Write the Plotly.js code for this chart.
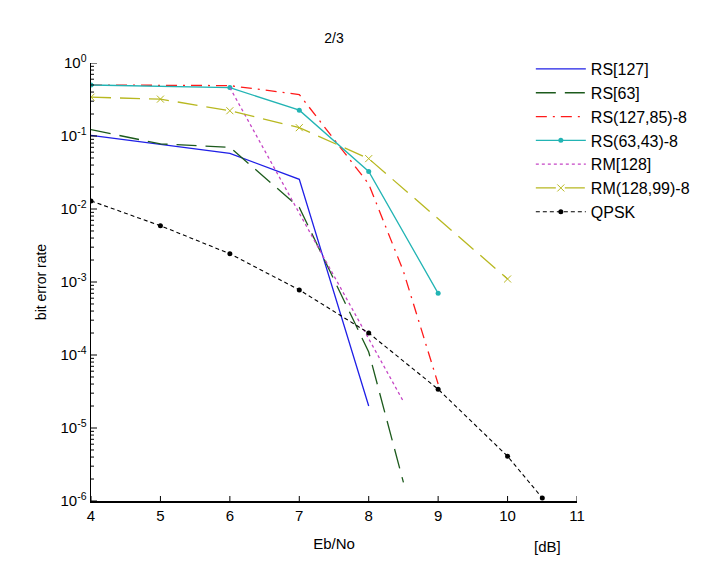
<!DOCTYPE html>
<html>
<head>
<meta charset="utf-8">
<script src="https://cdn.plot.ly/plotly-3.0.1.min.js"></script>
<style>html,body{margin:0;padding:0;background:#fff;}#chart{width:723px;height:569px;}</style>
</head>
<body>
<div id="chart"></div>
<script>
// ---- data ----
const seriesNames = ["RS[127]", "RS[63]", "RS(127,85)-8", "RS(63,43)-8", "RM[128]", "RM(128,99)-8", "QPSK"];

const rs127X = [4, 5, 6, 7, 8];
const rs127Y = [0.102, 0.077, 0.058, 0.0255, 2.0e-5];

const rs63X = [4, 5, 6, 7, 8, 8.5];
const rs63Y = [0.122, 0.078, 0.070, 0.0105, 1.1e-4, 1.8e-6];

const rs12785X = [4, 5, 6, 7, 8, 8.5, 9];
const rs12785Y = [0.50, 0.50, 0.49, 0.37, 0.022, 1.4e-3, 4.0e-5];

const rs6343X = [4, 6, 7, 8, 9];
const rs6343Y = [0.50, 0.46, 0.226, 0.0327, 7.0e-4];

const rm128X = [6, 7, 8, 8.5];
const rm128Y = [0.46, 0.0087, 1.6e-4, 2.3e-5];

const rm12899X = [4, 5, 6, 7, 8, 10];
const rm12899Y = [0.34, 0.32, 0.222, 0.13, 0.049, 1.1e-3];

const qpskX = [4, 5, 6, 7, 8, 9, 10, 10.5];
const qpskY = [0.0129, 0.0059, 0.00244, 7.8e-4, 2.0e-4, 3.4e-5, 4.1e-6, 1.1e-6];

const xTickVals = [4, 5, 6, 7, 8, 9, 10, 11];
const yTickVals = [1e-6, 1e-5, 1e-4, 1e-3, 1e-2, 1e-1, 1];
const yTickText = ["10<sup>-6</sup>", "10<sup>-5</sup>", "10<sup>-4</sup>", "10<sup>-3</sup>", "10<sup>-2</sup>", "10<sup>-1</sup>", "10<sup>0</sup>"];

const titleText = "2/3";
const xTitle = "Eb/No";
const yTitle = "bit error rate";
const unitText = "[dB]";

// minor tick positions (2..9 within each decade of the axis)
const minorDigits = [2, 3, 4, 5, 6, 7, 8, 9];
const yMinorVals = [];
yTickVals.slice(0, -1).forEach(d => minorDigits.forEach(m => yMinorVals.push(d * m)));

// ---- traces ----
const traces = [
  {x: rs127X, y: rs127Y, name: seriesNames[0], mode: "lines",
   line: {color: "#1f1fe6", width: 1.3}},
  {x: rs63X, y: rs63Y, name: seriesNames[1], mode: "lines",
   line: {color: "#1c5a1c", width: 1.3, dash: "20px,9px"}},
  {x: rs12785X, y: rs12785Y, name: seriesNames[2], mode: "lines",
   line: {color: "#ff1a1a", width: 1.3, dash: "11px,6px,2px,6px"}},
  {x: rs6343X, y: rs6343Y, name: seriesNames[3], mode: "lines+markers",
   line: {color: "#22b4b4", width: 1.3},
   marker: {symbol: "circle", size: 5, color: "#22b4b4"}},
  {x: rm128X, y: rm128Y, name: seriesNames[4], mode: "lines",
   line: {color: "#c545c5", width: 1.3, dash: "3px,3px"}},
  {x: rm12899X, y: rm12899Y, name: seriesNames[5], mode: "lines+markers",
   line: {color: "#b8b820", width: 1.3, dash: "20px,9px"},
   marker: {symbol: "x-thin", size: 7, color: "#b8b820", line: {color: "#b8b820", width: 1}}},
  {x: qpskX, y: qpskY, name: seriesNames[6], mode: "lines+markers",
   line: {color: "#000000", width: 1.1, dash: "4px,3px"},
   marker: {symbol: "circle", size: 5, color: "#000000"}}
];

// inward tick marks drawn as axis-referenced shapes
const plotW = 723 - 91 - 146, plotH = 569 - 63 - 68;
const tickShapes = [];
xTickVals.forEach(v => tickShapes.push({type: "line", xref: "x", yref: "paper", x0: v, x1: v, y0: 0, y1: 5 / plotH,
  line: {color: "#000", width: 1}, layer: "above"}));
yTickVals.forEach(v => tickShapes.push({type: "line", xref: "paper", yref: "y", x0: 0, x1: 6 / plotW, y0: v, y1: v,
  line: {color: "#000", width: 1}, layer: "above"}));
yMinorVals.forEach(v => tickShapes.push({type: "line", xref: "paper", yref: "y", x0: 0, x1: 3 / plotW, y0: v, y1: v,
  line: {color: "#000", width: 1}, layer: "above"}));

const layout = {
  width: 723, height: 569,
  margin: {l: 91, r: 146, t: 63, b: 68},
  paper_bgcolor: "#ffffff", plot_bgcolor: "#ffffff",
  font: {family: "Liberation Sans, Arial, sans-serif", size: 14, color: "#000"},
  showlegend: true,
  title: {text: titleText, x: 334 / 723, xanchor: "center", y: 1 - 38 / 569, yanchor: "middle",
          font: {size: 14, color: "#000"}},
  xaxis: {
    range: [4, 11], tickmode: "array", tickvals: xTickVals,
    ticks: "", showline: true, linecolor: "#000", linewidth: 1.5, mirror: false,
    showgrid: false, zeroline: false,
    tickfont: {size: 15},
    title: {text: xTitle, font: {size: 15}, standoff: 16}
  },
  yaxis: {
    type: "log", range: [-6, 0], tickmode: "array", tickvals: yTickVals, ticktext: yTickText,
    ticks: "", showline: true, linecolor: "#000", linewidth: 1.5, mirror: false,
    showgrid: false, zeroline: false,
    tickfont: {size: 15},
    title: {text: yTitle, font: {size: 14}, standoff: 10}
  },
  shapes: tickShapes,
  legend: {
    x: 0.905, y: 1.025, xanchor: "left", yanchor: "top",
    bgcolor: "rgba(0,0,0,0)", borderwidth: 0,
    font: {size: 16, color: "#000"},
    itemwidth: 50, tracegroupgap: 0
  },
  annotations: [
    {text: unitText, xref: "paper", yref: "paper", x: (547 - 91) / 486, y: -(546 - 501) / 438,
     xanchor: "center", yanchor: "middle", showarrow: false, font: {size: 15, color: "#000"}}
  ]
};

Plotly.newPlot("chart", traces, layout, {displayModeBar: false, staticPlot: true});
</script>
</body>
</html>
